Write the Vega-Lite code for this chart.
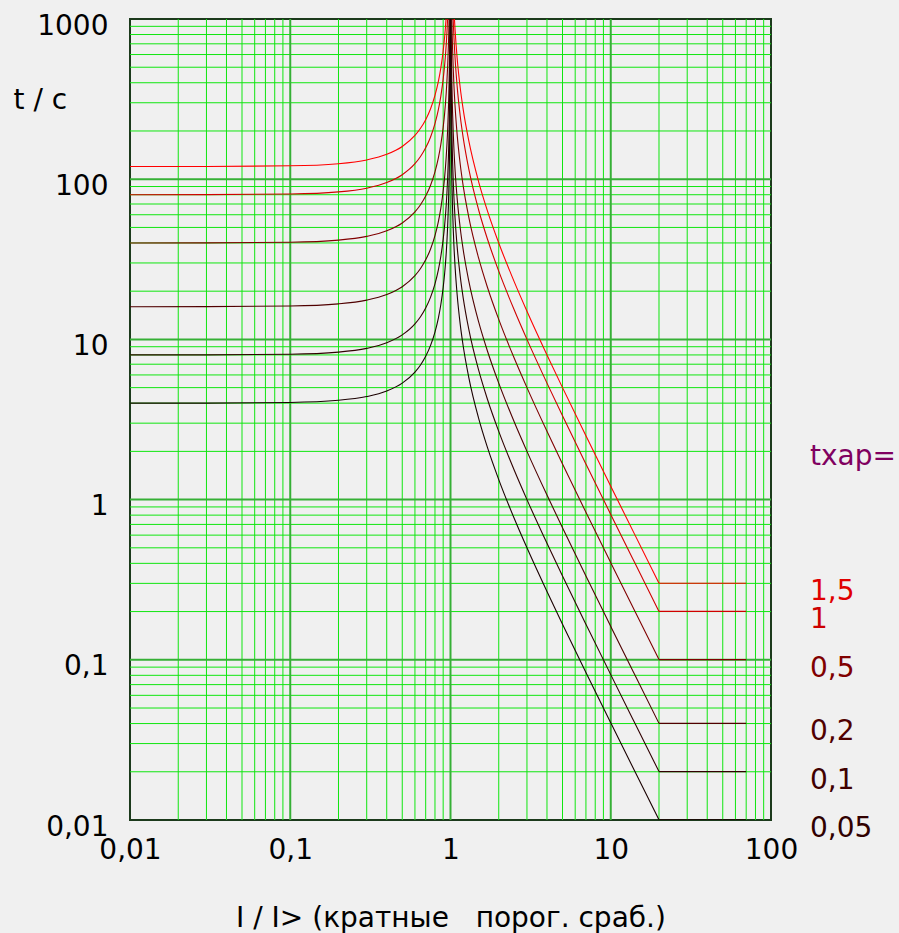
{
 "$schema": "https://vega.github.io/schema/vega-lite/v6.json",
 "width": 641, "height": 801,
 "autosize": {"type": "none"},
 "padding": {"left": 130, "top": 19, "right": 128, "bottom": 113},
 "background": "#f0f0f0",
 "config": {"view": {"stroke": "#1c3a1c", "strokeWidth": 2}, "font": "DejaVu Sans"},
 "datasets": {
  "xg": [
   {"I":0.02,"g":"minor"},{"I":0.03,"g":"minor"},{"I":0.04,"g":"minor"},{"I":0.05,"g":"minor"},{"I":0.06,"g":"minor"},{"I":0.07,"g":"minor"},{"I":0.08,"g":"minor"},{"I":0.09,"g":"minor"},
   {"I":0.1,"g":"major"},{"I":0.2,"g":"minor"},{"I":0.3,"g":"minor"},{"I":0.4,"g":"minor"},{"I":0.5,"g":"minor"},{"I":0.6,"g":"minor"},{"I":0.7,"g":"minor"},{"I":0.8,"g":"minor"},{"I":0.9,"g":"minor"},
   {"I":1,"g":"major"},{"I":2,"g":"minor"},{"I":3,"g":"minor"},{"I":4,"g":"minor"},{"I":5,"g":"minor"},{"I":6,"g":"minor"},{"I":7,"g":"minor"},{"I":8,"g":"minor"},{"I":9,"g":"minor"},
   {"I":10,"g":"major"},{"I":20,"g":"minor"},{"I":30,"g":"minor"},{"I":40,"g":"minor"},{"I":50,"g":"minor"},{"I":60,"g":"minor"},{"I":70,"g":"minor"},{"I":80,"g":"minor"},{"I":90,"g":"minor"}
  ],
  "yg": [
   {"t":0.02,"g":"minor"},{"t":0.03,"g":"minor"},{"t":0.04,"g":"minor"},{"t":0.05,"g":"minor"},{"t":0.06,"g":"minor"},{"t":0.07,"g":"minor"},{"t":0.08,"g":"minor"},{"t":0.09,"g":"minor"},
   {"t":0.1,"g":"major"},{"t":0.2,"g":"minor"},{"t":0.3,"g":"minor"},{"t":0.4,"g":"minor"},{"t":0.5,"g":"minor"},{"t":0.6,"g":"minor"},{"t":0.7,"g":"minor"},{"t":0.8,"g":"minor"},{"t":0.9,"g":"minor"},
   {"t":1,"g":"major"},{"t":2,"g":"minor"},{"t":3,"g":"minor"},{"t":4,"g":"minor"},{"t":5,"g":"minor"},{"t":6,"g":"minor"},{"t":7,"g":"minor"},{"t":8,"g":"minor"},{"t":9,"g":"minor"},
   {"t":10,"g":"major"},{"t":20,"g":"minor"},{"t":30,"g":"minor"},{"t":40,"g":"minor"},{"t":50,"g":"minor"},{"t":60,"g":"minor"},{"t":70,"g":"minor"},{"t":80,"g":"minor"},{"t":90,"g":"minor"},
   {"t":100,"g":"major"},{"t":200,"g":"minor"},{"t":300,"g":"minor"},{"t":400,"g":"minor"},{"t":500,"g":"minor"},{"t":600,"g":"minor"},{"t":700,"g":"minor"},{"t":800,"g":"minor"},{"t":900,"g":"minor"}
  ],
  "labels": [
   {"label": "txap=", "I": 175, "t": 2.1},
   {"label": "1,5", "I": 175, "t": 0.3008},
   {"label": "1", "I": 175, "t": 0.2005},
   {"label": "0,5", "I": 175, "t": 0.1003},
   {"label": "0,2", "I": 175, "t": 0.0401},
   {"label": "0,1", "I": 175, "t": 0.02005},
   {"label": "0,05", "I": 175, "t": 0.01003}
  ],
  "curves": [
    {"k":"1,5","s":"L","I":0.01,"t":120.0},{"k":"1,5","s":"L","I":0.03,"t":120.1},{"k":"1,5","s":"L","I":0.1,"t":121.2},{"k":"1,5","s":"L","I":0.2,"t":125.0},{"k":"1,5","s":"L","I":0.3,"t":131.9},{"k":"1,5","s":"L","I":0.4,"t":142.9},{"k":"1,5","s":"L","I":0.5,"t":160.0},{"k":"1,5","s":"L","I":0.6,"t":187.5},{"k":"1,5","s":"L","I":0.65,"t":207.8},{"k":"1,5","s":"L","I":0.7,"t":235.3},{"k":"1,5","s":"L","I":0.75,"t":274.3},{"k":"1,5","s":"L","I":0.8,"t":333.3},{"k":"1,5","s":"L","I":0.84,"t":407.6},{"k":"1,5","s":"L","I":0.87,"t":493.6},{"k":"1,5","s":"L","I":0.9,"t":631.6},{"k":"1,5","s":"L","I":0.92,"t":781.3},{"k":"1,5","s":"L","I":0.93,"t":888.2},{"k":"1,5","s":"L","I":0.9381,"t":1000},
    {"k":"1,5","s":"R","I":1.0583,"t":1000},{"k":"1,5","s":"R","I":1.065,"t":894.1},{"k":"1,5","s":"R","I":1.07,"t":828.2},{"k":"1,5","s":"R","I":1.1,"t":571.4},{"k":"1,5","s":"R","I":1.15,"t":372.1},{"k":"1,5","s":"R","I":1.2,"t":272.7},{"k":"1,5","s":"R","I":1.3,"t":173.9},{"k":"1,5","s":"R","I":1.5,"t":96.0},{"k":"1,5","s":"R","I":1.7,"t":63.49},{"k":"1,5","s":"R","I":2,"t":40.0},{"k":"1,5","s":"R","I":2.5,"t":22.86},{"k":"1,5","s":"R","I":3,"t":15.0},{"k":"1,5","s":"R","I":4,"t":8.0},{"k":"1,5","s":"R","I":5,"t":5.0},{"k":"1,5","s":"R","I":7,"t":2.5},{"k":"1,5","s":"R","I":10,"t":1.212},{"k":"1,5","s":"R","I":14,"t":0.6154},{"k":"1,5","s":"R","I":20,"t":0.3008},
    {"k":"1,5","s":"F","I":20,"t":0.3008},{"k":"1,5","s":"F","I":70,"t":0.3008},
    {"k":"1","s":"L","I":0.01,"t":80.01},{"k":"1","s":"L","I":0.03,"t":80.07},{"k":"1","s":"L","I":0.1,"t":80.81},{"k":"1","s":"L","I":0.2,"t":83.33},{"k":"1","s":"L","I":0.3,"t":87.91},{"k":"1","s":"L","I":0.4,"t":95.24},{"k":"1","s":"L","I":0.5,"t":106.7},{"k":"1","s":"L","I":0.6,"t":125.0},{"k":"1","s":"L","I":0.65,"t":138.5},{"k":"1","s":"L","I":0.7,"t":156.9},{"k":"1","s":"L","I":0.75,"t":182.9},{"k":"1","s":"L","I":0.8,"t":222.2},{"k":"1","s":"L","I":0.84,"t":271.7},{"k":"1","s":"L","I":0.87,"t":329.1},{"k":"1","s":"L","I":0.9,"t":421.1},{"k":"1","s":"L","I":0.92,"t":520.8},{"k":"1","s":"L","I":0.93,"t":592.2},{"k":"1","s":"L","I":0.94,"t":687.3},{"k":"1","s":"L","I":0.95,"t":820.5},{"k":"1","s":"L","I":0.9592,"t":1000},
    {"k":"1","s":"R","I":1.0392,"t":1000},{"k":"1","s":"R","I":1.045,"t":869.3},{"k":"1","s":"R","I":1.05,"t":780.5},{"k":"1","s":"R","I":1.07,"t":552.1},{"k":"1","s":"R","I":1.1,"t":381.0},{"k":"1","s":"R","I":1.15,"t":248.1},{"k":"1","s":"R","I":1.2,"t":181.8},{"k":"1","s":"R","I":1.3,"t":115.9},{"k":"1","s":"R","I":1.5,"t":64.0},{"k":"1","s":"R","I":1.7,"t":42.33},{"k":"1","s":"R","I":2,"t":26.67},{"k":"1","s":"R","I":2.5,"t":15.24},{"k":"1","s":"R","I":3,"t":10.0},{"k":"1","s":"R","I":4,"t":5.333},{"k":"1","s":"R","I":5,"t":3.333},{"k":"1","s":"R","I":7,"t":1.667},{"k":"1","s":"R","I":10,"t":0.8081},{"k":"1","s":"R","I":14,"t":0.4103},{"k":"1","s":"R","I":20,"t":0.2005},
    {"k":"1","s":"F","I":20,"t":0.2005},{"k":"1","s":"F","I":70,"t":0.2005},
    {"k":"0,5","s":"L","I":0.01,"t":40.0},{"k":"0,5","s":"L","I":0.03,"t":40.04},{"k":"0,5","s":"L","I":0.1,"t":40.4},{"k":"0,5","s":"L","I":0.2,"t":41.67},{"k":"0,5","s":"L","I":0.3,"t":43.96},{"k":"0,5","s":"L","I":0.4,"t":47.62},{"k":"0,5","s":"L","I":0.5,"t":53.33},{"k":"0,5","s":"L","I":0.6,"t":62.5},{"k":"0,5","s":"L","I":0.65,"t":69.26},{"k":"0,5","s":"L","I":0.7,"t":78.43},{"k":"0,5","s":"L","I":0.75,"t":91.43},{"k":"0,5","s":"L","I":0.8,"t":111.1},{"k":"0,5","s":"L","I":0.84,"t":135.9},{"k":"0,5","s":"L","I":0.87,"t":164.5},{"k":"0,5","s":"L","I":0.9,"t":210.5},{"k":"0,5","s":"L","I":0.92,"t":260.4},{"k":"0,5","s":"L","I":0.93,"t":296.1},{"k":"0,5","s":"L","I":0.94,"t":343.6},{"k":"0,5","s":"L","I":0.95,"t":410.3},{"k":"0,5","s":"L","I":0.96,"t":510.2},{"k":"0,5","s":"L","I":0.97,"t":676.8},{"k":"0,5","s":"L","I":0.975,"t":810.1},{"k":"0,5","s":"L","I":0.9798,"t":1000},
    {"k":"0,5","s":"R","I":1.0198,"t":1000},{"k":"0,5","s":"R","I":1.025,"t":790.1},{"k":"0,5","s":"R","I":1.03,"t":656.8},{"k":"0,5","s":"R","I":1.04,"t":490.2},{"k":"0,5","s":"R","I":1.05,"t":390.2},{"k":"0,5","s":"R","I":1.07,"t":276.1},{"k":"0,5","s":"R","I":1.1,"t":190.5},{"k":"0,5","s":"R","I":1.15,"t":124.0},{"k":"0,5","s":"R","I":1.2,"t":90.91},{"k":"0,5","s":"R","I":1.3,"t":57.97},{"k":"0,5","s":"R","I":1.5,"t":32.0},{"k":"0,5","s":"R","I":1.7,"t":21.16},{"k":"0,5","s":"R","I":2,"t":13.33},{"k":"0,5","s":"R","I":2.5,"t":7.619},{"k":"0,5","s":"R","I":3,"t":5.0},{"k":"0,5","s":"R","I":4,"t":2.667},{"k":"0,5","s":"R","I":5,"t":1.667},{"k":"0,5","s":"R","I":7,"t":0.8333},{"k":"0,5","s":"R","I":10,"t":0.404},{"k":"0,5","s":"R","I":14,"t":0.2051},{"k":"0,5","s":"R","I":20,"t":0.1003},
    {"k":"0,5","s":"F","I":20,"t":0.1003},{"k":"0,5","s":"F","I":70,"t":0.1003},
    {"k":"0,2","s":"L","I":0.01,"t":16.0},{"k":"0,2","s":"L","I":0.03,"t":16.01},{"k":"0,2","s":"L","I":0.1,"t":16.16},{"k":"0,2","s":"L","I":0.2,"t":16.67},{"k":"0,2","s":"L","I":0.3,"t":17.58},{"k":"0,2","s":"L","I":0.4,"t":19.05},{"k":"0,2","s":"L","I":0.5,"t":21.33},{"k":"0,2","s":"L","I":0.6,"t":25.0},{"k":"0,2","s":"L","I":0.65,"t":27.71},{"k":"0,2","s":"L","I":0.7,"t":31.37},{"k":"0,2","s":"L","I":0.75,"t":36.57},{"k":"0,2","s":"L","I":0.8,"t":44.44},{"k":"0,2","s":"L","I":0.84,"t":54.35},{"k":"0,2","s":"L","I":0.87,"t":65.82},{"k":"0,2","s":"L","I":0.9,"t":84.21},{"k":"0,2","s":"L","I":0.92,"t":104.2},{"k":"0,2","s":"L","I":0.93,"t":118.4},{"k":"0,2","s":"L","I":0.94,"t":137.5},{"k":"0,2","s":"L","I":0.95,"t":164.1},{"k":"0,2","s":"L","I":0.96,"t":204.1},{"k":"0,2","s":"L","I":0.97,"t":270.7},{"k":"0,2","s":"L","I":0.975,"t":324.1},{"k":"0,2","s":"L","I":0.98,"t":404.0},{"k":"0,2","s":"L","I":0.985,"t":537.4},{"k":"0,2","s":"L","I":0.988,"t":670.7},{"k":"0,2","s":"L","I":0.99,"t":804.0},{"k":"0,2","s":"L","I":0.99197,"t":1000},
    {"k":"0,2","s":"R","I":1.00797,"t":1000},{"k":"0,2","s":"R","I":1.01,"t":796.0},{"k":"0,2","s":"R","I":1.015,"t":529.4},{"k":"0,2","s":"R","I":1.02,"t":396.0},{"k":"0,2","s":"R","I":1.03,"t":262.7},{"k":"0,2","s":"R","I":1.04,"t":196.1},{"k":"0,2","s":"R","I":1.05,"t":156.1},{"k":"0,2","s":"R","I":1.07,"t":110.4},{"k":"0,2","s":"R","I":1.1,"t":76.19},{"k":"0,2","s":"R","I":1.15,"t":49.61},{"k":"0,2","s":"R","I":1.2,"t":36.36},{"k":"0,2","s":"R","I":1.3,"t":23.19},{"k":"0,2","s":"R","I":1.5,"t":12.8},{"k":"0,2","s":"R","I":1.7,"t":8.466},{"k":"0,2","s":"R","I":2,"t":5.333},{"k":"0,2","s":"R","I":2.5,"t":3.048},{"k":"0,2","s":"R","I":3,"t":2.0},{"k":"0,2","s":"R","I":4,"t":1.067},{"k":"0,2","s":"R","I":5,"t":0.6667},{"k":"0,2","s":"R","I":7,"t":0.3333},{"k":"0,2","s":"R","I":10,"t":0.1616},{"k":"0,2","s":"R","I":14,"t":0.08205},{"k":"0,2","s":"R","I":20,"t":0.0401},
    {"k":"0,2","s":"F","I":20,"t":0.0401},{"k":"0,2","s":"F","I":70,"t":0.0401},
    {"k":"0,1","s":"L","I":0.01,"t":8.001},{"k":"0,1","s":"L","I":0.03,"t":8.007},{"k":"0,1","s":"L","I":0.1,"t":8.081},{"k":"0,1","s":"L","I":0.2,"t":8.333},{"k":"0,1","s":"L","I":0.3,"t":8.791},{"k":"0,1","s":"L","I":0.4,"t":9.524},{"k":"0,1","s":"L","I":0.5,"t":10.67},{"k":"0,1","s":"L","I":0.6,"t":12.5},{"k":"0,1","s":"L","I":0.65,"t":13.85},{"k":"0,1","s":"L","I":0.7,"t":15.69},{"k":"0,1","s":"L","I":0.75,"t":18.29},{"k":"0,1","s":"L","I":0.8,"t":22.22},{"k":"0,1","s":"L","I":0.84,"t":27.17},{"k":"0,1","s":"L","I":0.87,"t":32.91},{"k":"0,1","s":"L","I":0.9,"t":42.11},{"k":"0,1","s":"L","I":0.92,"t":52.08},{"k":"0,1","s":"L","I":0.93,"t":59.22},{"k":"0,1","s":"L","I":0.94,"t":68.73},{"k":"0,1","s":"L","I":0.95,"t":82.05},{"k":"0,1","s":"L","I":0.96,"t":102.0},{"k":"0,1","s":"L","I":0.97,"t":135.4},{"k":"0,1","s":"L","I":0.975,"t":162.0},{"k":"0,1","s":"L","I":0.98,"t":202.0},{"k":"0,1","s":"L","I":0.985,"t":268.7},{"k":"0,1","s":"L","I":0.988,"t":335.3},{"k":"0,1","s":"L","I":0.99,"t":402.0},{"k":"0,1","s":"L","I":0.992,"t":502.0},{"k":"0,1","s":"L","I":0.993,"t":573.4},{"k":"0,1","s":"L","I":0.995,"t":802.0},{"k":"0,1","s":"L","I":0.99599,"t":1000},
    {"k":"0,1","s":"R","I":1.00399,"t":1000},{"k":"0,1","s":"R","I":1.005,"t":798.0},{"k":"0,1","s":"R","I":1.007,"t":569.4},{"k":"0,1","s":"R","I":1.01,"t":398.0},{"k":"0,1","s":"R","I":1.015,"t":264.7},{"k":"0,1","s":"R","I":1.02,"t":198.0},{"k":"0,1","s":"R","I":1.03,"t":131.4},{"k":"0,1","s":"R","I":1.04,"t":98.04},{"k":"0,1","s":"R","I":1.05,"t":78.05},{"k":"0,1","s":"R","I":1.07,"t":55.21},{"k":"0,1","s":"R","I":1.1,"t":38.1},{"k":"0,1","s":"R","I":1.15,"t":24.81},{"k":"0,1","s":"R","I":1.2,"t":18.18},{"k":"0,1","s":"R","I":1.3,"t":11.59},{"k":"0,1","s":"R","I":1.5,"t":6.4},{"k":"0,1","s":"R","I":1.7,"t":4.233},{"k":"0,1","s":"R","I":2,"t":2.667},{"k":"0,1","s":"R","I":2.5,"t":1.524},{"k":"0,1","s":"R","I":3,"t":1.0},{"k":"0,1","s":"R","I":4,"t":0.5333},{"k":"0,1","s":"R","I":5,"t":0.3333},{"k":"0,1","s":"R","I":7,"t":0.1667},{"k":"0,1","s":"R","I":10,"t":0.08081},{"k":"0,1","s":"R","I":14,"t":0.04103},{"k":"0,1","s":"R","I":20,"t":0.02005},
    {"k":"0,1","s":"F","I":20,"t":0.02005},{"k":"0,1","s":"F","I":70,"t":0.02005},
    {"k":"0,05","s":"L","I":0.01,"t":4.0},{"k":"0,05","s":"L","I":0.03,"t":4.004},{"k":"0,05","s":"L","I":0.1,"t":4.04},{"k":"0,05","s":"L","I":0.2,"t":4.167},{"k":"0,05","s":"L","I":0.3,"t":4.396},{"k":"0,05","s":"L","I":0.4,"t":4.762},{"k":"0,05","s":"L","I":0.5,"t":5.333},{"k":"0,05","s":"L","I":0.6,"t":6.25},{"k":"0,05","s":"L","I":0.65,"t":6.926},{"k":"0,05","s":"L","I":0.7,"t":7.843},{"k":"0,05","s":"L","I":0.75,"t":9.143},{"k":"0,05","s":"L","I":0.8,"t":11.11},{"k":"0,05","s":"L","I":0.84,"t":13.59},{"k":"0,05","s":"L","I":0.87,"t":16.45},{"k":"0,05","s":"L","I":0.9,"t":21.05},{"k":"0,05","s":"L","I":0.92,"t":26.04},{"k":"0,05","s":"L","I":0.93,"t":29.61},{"k":"0,05","s":"L","I":0.94,"t":34.36},{"k":"0,05","s":"L","I":0.95,"t":41.03},{"k":"0,05","s":"L","I":0.96,"t":51.02},{"k":"0,05","s":"L","I":0.97,"t":67.68},{"k":"0,05","s":"L","I":0.975,"t":81.01},{"k":"0,05","s":"L","I":0.98,"t":101.0},{"k":"0,05","s":"L","I":0.985,"t":134.3},{"k":"0,05","s":"L","I":0.988,"t":167.7},{"k":"0,05","s":"L","I":0.99,"t":201.0},{"k":"0,05","s":"L","I":0.992,"t":251.0},{"k":"0,05","s":"L","I":0.993,"t":286.7},{"k":"0,05","s":"L","I":0.995,"t":401.0},{"k":"0,05","s":"L","I":0.996,"t":501.0},{"k":"0,05","s":"L","I":0.997,"t":667.6},{"k":"0,05","s":"L","I":0.998,"t":1000},
    {"k":"0,05","s":"R","I":1.002,"t":1000},{"k":"0,05","s":"R","I":1.003,"t":665.7},{"k":"0,05","s":"R","I":1.004,"t":499.0},{"k":"0,05","s":"R","I":1.005,"t":399.0},{"k":"0,05","s":"R","I":1.007,"t":284.7},{"k":"0,05","s":"R","I":1.01,"t":199.0},{"k":"0,05","s":"R","I":1.015,"t":132.3},{"k":"0,05","s":"R","I":1.02,"t":99.01},{"k":"0,05","s":"R","I":1.03,"t":65.68},{"k":"0,05","s":"R","I":1.04,"t":49.02},{"k":"0,05","s":"R","I":1.05,"t":39.02},{"k":"0,05","s":"R","I":1.07,"t":27.61},{"k":"0,05","s":"R","I":1.1,"t":19.05},{"k":"0,05","s":"R","I":1.15,"t":12.4},{"k":"0,05","s":"R","I":1.2,"t":9.091},{"k":"0,05","s":"R","I":1.3,"t":5.797},{"k":"0,05","s":"R","I":1.5,"t":3.2},{"k":"0,05","s":"R","I":1.7,"t":2.116},{"k":"0,05","s":"R","I":2,"t":1.333},{"k":"0,05","s":"R","I":2.5,"t":0.7619},{"k":"0,05","s":"R","I":3,"t":0.5},{"k":"0,05","s":"R","I":4,"t":0.2667},{"k":"0,05","s":"R","I":5,"t":0.1667},{"k":"0,05","s":"R","I":7,"t":0.08333},{"k":"0,05","s":"R","I":10,"t":0.0404},{"k":"0,05","s":"R","I":14,"t":0.02051},{"k":"0,05","s":"R","I":20,"t":0.01003},
    {"k":"0,05","s":"F","I":20,"t":0.01003},{"k":"0,05","s":"F","I":70,"t":0.01003}
  ]
 },
 "layer": [
  {
   "data": {"name": "xg"},
   "transform": [{"filter": "datum.g == 'minor'"}],
   "mark": {"type": "rule", "color": "#10e610", "strokeWidth": 1},
   "encoding": {"x": {"field": "I", "type": "quantitative", "scale": {"type": "log", "domain": [0.01, 100]},
     "axis": {"values": [0.01, 0.1, 1, 10, 100], "grid": false, "ticks": false, "domain": false, "labelFontSize": 28, "labelColor": "#000000", "labelPadding": 16, "labelFlush": false, "labelOverlap": false,
      "labelExpr": "replace(format(datum.value, '~g'), '.', ',')",
      "title": "I / I> (кратные\u00a0\u00a0 порог. сраб.)", "titleFontSize": 28, "titleFontWeight": "normal", "titleColor": "#000000", "titleBaseline": "alphabetic", "titleY": 106}}}
  },
  {
   "data": {"name": "yg"},
   "transform": [{"filter": "datum.g == 'minor'"}],
   "mark": {"type": "rule", "color": "#10e610", "strokeWidth": 1},
   "encoding": {"y": {"field": "t", "type": "quantitative", "scale": {"type": "log", "domain": [0.01, 1000]},
     "axis": {"values": [0.01, 0.1, 1, 10, 100, 1000], "grid": false, "ticks": false, "domain": false, "labelFontSize": 28, "labelColor": "#000000", "labelPadding": 22, "labelOffset": 7, "labelBaseline": "middle", "labelFlush": false, "labelOverlap": false,
      "labelExpr": "replace(format(datum.value, '~g'), '.', ',')",
      "title": "t / c", "titleFontSize": 28, "titleFontWeight": "normal", "titleColor": "#000000", "titleAngle": 0, "titleAlign": "left", "titleBaseline": "alphabetic", "titleX": -117, "titleY": 89}}}
  },
  {
   "data": {"name": "xg"},
   "transform": [{"filter": "datum.g == 'major'"}],
   "mark": {"type": "rule", "color": "#36b036", "strokeWidth": 2},
   "encoding": {"x": {"field": "I", "type": "quantitative"}}
  },
  {
   "data": {"name": "yg"},
   "transform": [{"filter": "datum.g == 'major'"}],
   "mark": {"type": "rule", "color": "#36b036", "strokeWidth": 2},
   "encoding": {"y": {"field": "t", "type": "quantitative"}}
  },
  {
   "data": {"name": "curves"},
   "mark": {"type": "line", "interpolate": "monotone", "strokeWidth": 1.1, "clip": true},
   "encoding": {
    "x": {"field": "I", "type": "quantitative"},
    "y": {"field": "t", "type": "quantitative"},
    "stroke": {"field": "k", "type": "nominal", "scale": {"domain": ["1,5","1","0,5","0,2","0,1","0,05"], "range": ["#ff0000","#d00000","#800000","#500000","#300000","#1a0000"]}, "legend": null},
    "detail": [{"field": "k"}, {"field": "s"}]
   }
  },
  {
   "data": {"name": "labels"},
   "mark": {"type": "text", "align": "left", "baseline": "alphabetic", "dy": 17, "fontSize": 28, "font": "DejaVu Sans", "clip": false},
   "encoding": {
    "x": {"field": "I", "type": "quantitative"},
    "y": {"field": "t", "type": "quantitative"},
    "text": {"field": "label"},
    "fill": {"field": "label", "type": "nominal", "scale": {"domain": ["txap=","1,5","1","0,5","0,2","0,1","0,05"], "range": ["#800060","#e00000","#cc0000","#800000","#500000","#400000","#300000"]}, "legend": null}
   }
  }
 ]
}
